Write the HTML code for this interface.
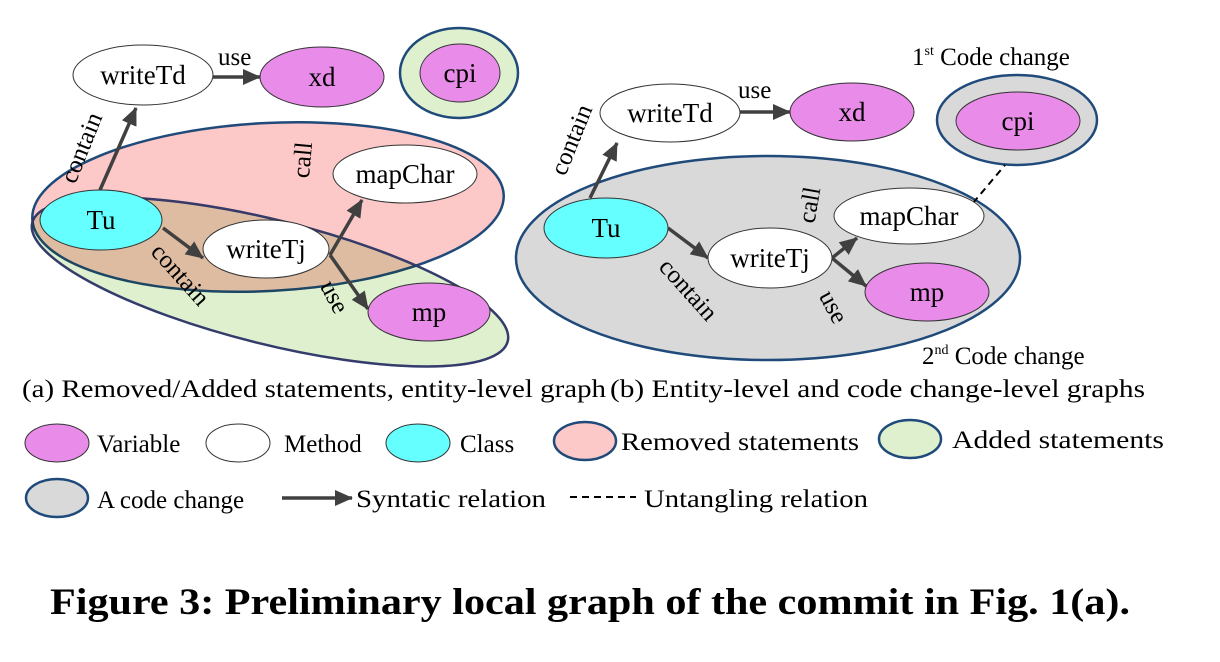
<!DOCTYPE html>
<html><head><meta charset="utf-8"><style>
html,body{margin:0;padding:0;background:#fff;}
svg{display:block;}
text{font-family:"Liberation Serif",serif;fill:#000;}
</style></head><body>
<svg width="1220" height="662" viewBox="0 0 1220 662">
<defs>
<marker id="ah" markerWidth="18" markerHeight="16" refX="17" refY="8" orient="auto" markerUnits="userSpaceOnUse" viewBox="0 0 18 16">
<path d="M0,0 L18,8 L0,16 z" fill="#404040"/></marker>
</defs>
<style>
.n{stroke:#333;stroke-width:1}
.v{fill:#e98be9}.m{fill:#fff}.c{fill:#66ffff}
.lb{font-size:27px;text-anchor:middle;dominant-baseline:central}
.el{font-size:25px}
.ar{stroke:#404040;stroke-width:3.5;marker-end:url(#ah)}
.t{font-size:25px}
</style>
<g>
<ellipse cx="270" cy="282" rx="245" ry="62" transform="rotate(14 270 282)" fill="#dff0cf" stroke="#1f4a7a" stroke-width="2.5"/>
<ellipse cx="268" cy="207" rx="236" ry="84" transform="rotate(-3 268 207)" fill="#fdc8c8" stroke="#1f4a7a" stroke-width="2.5" style="mix-blend-mode:multiply"/>
<ellipse cx="270" cy="282" rx="245" ry="62" transform="rotate(14 270 282)" fill="none" stroke="#3a3a6a" stroke-width="2"/>
<ellipse cx="459" cy="73" rx="59" ry="45" fill="#dff0cf" stroke="#1f4a7a" stroke-width="2.5"/>
<line class="ar" x1="100" y1="190" x2="136" y2="108"/>
<line class="ar" x1="213" y1="77" x2="260" y2="77"/>
<line class="ar" x1="163" y1="228" x2="203" y2="258"/>
<line class="ar" x1="330" y1="255" x2="362" y2="200"/>
<line class="ar" x1="330" y1="255" x2="368" y2="309"/>
<ellipse class="n m" cx="143" cy="75" rx="70" ry="30"/><text class="lb" x="143" y="75">writeTd</text>
<ellipse class="n v" cx="322" cy="77" rx="62" ry="30"/><text class="lb" x="322" y="77">xd</text>
<ellipse class="n v" cx="460" cy="73" rx="40" ry="29"/><text class="lb" x="460" y="73">cpi</text>
<ellipse class="n c" cx="101" cy="220" rx="61" ry="30"/><text class="lb" x="101" y="220">Tu</text>
<ellipse class="n m" cx="266" cy="249" rx="63" ry="29"/><text class="lb" x="266" y="249">writeTj</text>
<ellipse class="n m" cx="405" cy="174" rx="72" ry="29"/><text class="lb" x="405" y="174">mapChar</text>
<ellipse class="n v" cx="429" cy="312" rx="61" ry="29"/><text class="lb" x="429" y="312">mp</text>
<text class="el" x="218" y="65">use</text>
<text class="el" transform="translate(82,148) rotate(-68)" text-anchor="middle" dominant-baseline="central">contain</text>
<text class="el" transform="translate(303,160) rotate(-85)" text-anchor="middle" dominant-baseline="central">call</text>
<text class="el" transform="translate(180,275) rotate(48)" text-anchor="middle" dominant-baseline="central">contain</text>
<text class="el" transform="translate(334,297) rotate(62)" text-anchor="middle" dominant-baseline="central">use</text>
</g>
<g>
<ellipse cx="768" cy="258" rx="252" ry="102" fill="#d9d9d9" stroke="#1f4a7a" stroke-width="2.5"/>
<ellipse cx="1017" cy="120" rx="80" ry="45" fill="#d9d9d9" stroke="#1f4a7a" stroke-width="2.5"/>
<line x1="973" y1="203" x2="1005" y2="165" stroke="#000" stroke-width="2" stroke-dasharray="7,5"/>
<line class="ar" x1="590" y1="198" x2="617" y2="143"/>
<line class="ar" x1="740" y1="112" x2="790" y2="112"/>
<line class="ar" x1="668" y1="228" x2="708" y2="258"/>
<line class="ar" x1="832" y1="258" x2="857" y2="238"/>
<line class="ar" x1="832" y1="258" x2="866" y2="286"/>
<ellipse class="n m" cx="670" cy="113" rx="70" ry="29"/><text class="lb" x="670" y="113">writeTd</text>
<ellipse class="n v" cx="852" cy="112" rx="62" ry="29"/><text class="lb" x="852" y="112">xd</text>
<ellipse class="n v" cx="1018" cy="121" rx="62" ry="29"/><text class="lb" x="1018" y="121">cpi</text>
<ellipse class="n c" cx="606" cy="228" rx="62" ry="30"/><text class="lb" x="606" y="228">Tu</text>
<ellipse class="n m" cx="770" cy="258" rx="62" ry="30"/><text class="lb" x="770" y="258">writeTj</text>
<ellipse class="n m" cx="909" cy="216" rx="75" ry="28"/><text class="lb" x="909" y="216">mapChar</text>
<ellipse class="n v" cx="927" cy="292" rx="62" ry="29"/><text class="lb" x="927" y="292">mp</text>
<text class="el" x="738" y="98">use</text>
<text class="el" transform="translate(572,140) rotate(-68)" text-anchor="middle" dominant-baseline="central">contain</text>
<text class="el" transform="translate(810,205) rotate(-80)" text-anchor="middle" dominant-baseline="central">call</text>
<text class="el" transform="translate(688,290) rotate(48)" text-anchor="middle" dominant-baseline="central">contain</text>
<text class="el" transform="translate(833,307) rotate(62)" text-anchor="middle" dominant-baseline="central">use</text>
<text class="t" x="912" y="65">1<tspan font-size="14" dy="-10">st</tspan><tspan dy="10"> Code change</tspan></text>
<text class="t" x="922" y="364">2<tspan font-size="14" dy="-10">nd</tspan><tspan dy="10"> Code change</tspan></text>
</g>
<text class="t" x="22" y="397" textLength="584" lengthAdjust="spacingAndGlyphs">(a) Removed/Added statements, entity-level graph</text>
<text class="t" x="610" y="397" textLength="535" lengthAdjust="spacingAndGlyphs">(b)  Entity-level and code change-level graphs</text>
<g>
<ellipse class="n v" cx="57" cy="443" rx="32" ry="19"/><text class="t" x="97" y="452">Variable</text>
<ellipse class="n m" cx="238" cy="443" rx="32" ry="19"/><text class="t" x="284" y="452">Method</text>
<ellipse class="n c" cx="418" cy="443" rx="32" ry="19"/><text class="t" x="460" y="452">Class</text>
<ellipse cx="585" cy="441" rx="31" ry="19" fill="#fdc8c8" stroke="#1f4a7a" stroke-width="2.5"/><text class="t" x="621" y="450" textLength="238" lengthAdjust="spacingAndGlyphs">Removed statements</text>
<ellipse cx="910" cy="439" rx="31" ry="19" fill="#dff0cf" stroke="#1f4a7a" stroke-width="2.5"/><text class="t" x="952" y="448" textLength="212" lengthAdjust="spacingAndGlyphs">Added  statements</text>
<ellipse cx="57" cy="498" rx="31" ry="19" fill="#d9d9d9" stroke="#1f4a7a" stroke-width="2.5"/><text class="t" x="97" y="508">A code change</text>
<line class="ar" x1="282" y1="498" x2="352" y2="498"/><text class="t" x="356" y="507" textLength="190" lengthAdjust="spacingAndGlyphs">Syntatic relation</text>
<line x1="570" y1="497" x2="636" y2="497" stroke="#000" stroke-width="2" stroke-dasharray="7,5"/><text class="t" x="644" y="507" textLength="224" lengthAdjust="spacingAndGlyphs">Untangling relation</text>
</g>
<text x="50" y="614" font-size="37" font-weight="bold" textLength="1080" lengthAdjust="spacingAndGlyphs">Figure 3: Preliminary local graph of the commit in Fig. 1(a).</text>
</svg>
</body></html>
